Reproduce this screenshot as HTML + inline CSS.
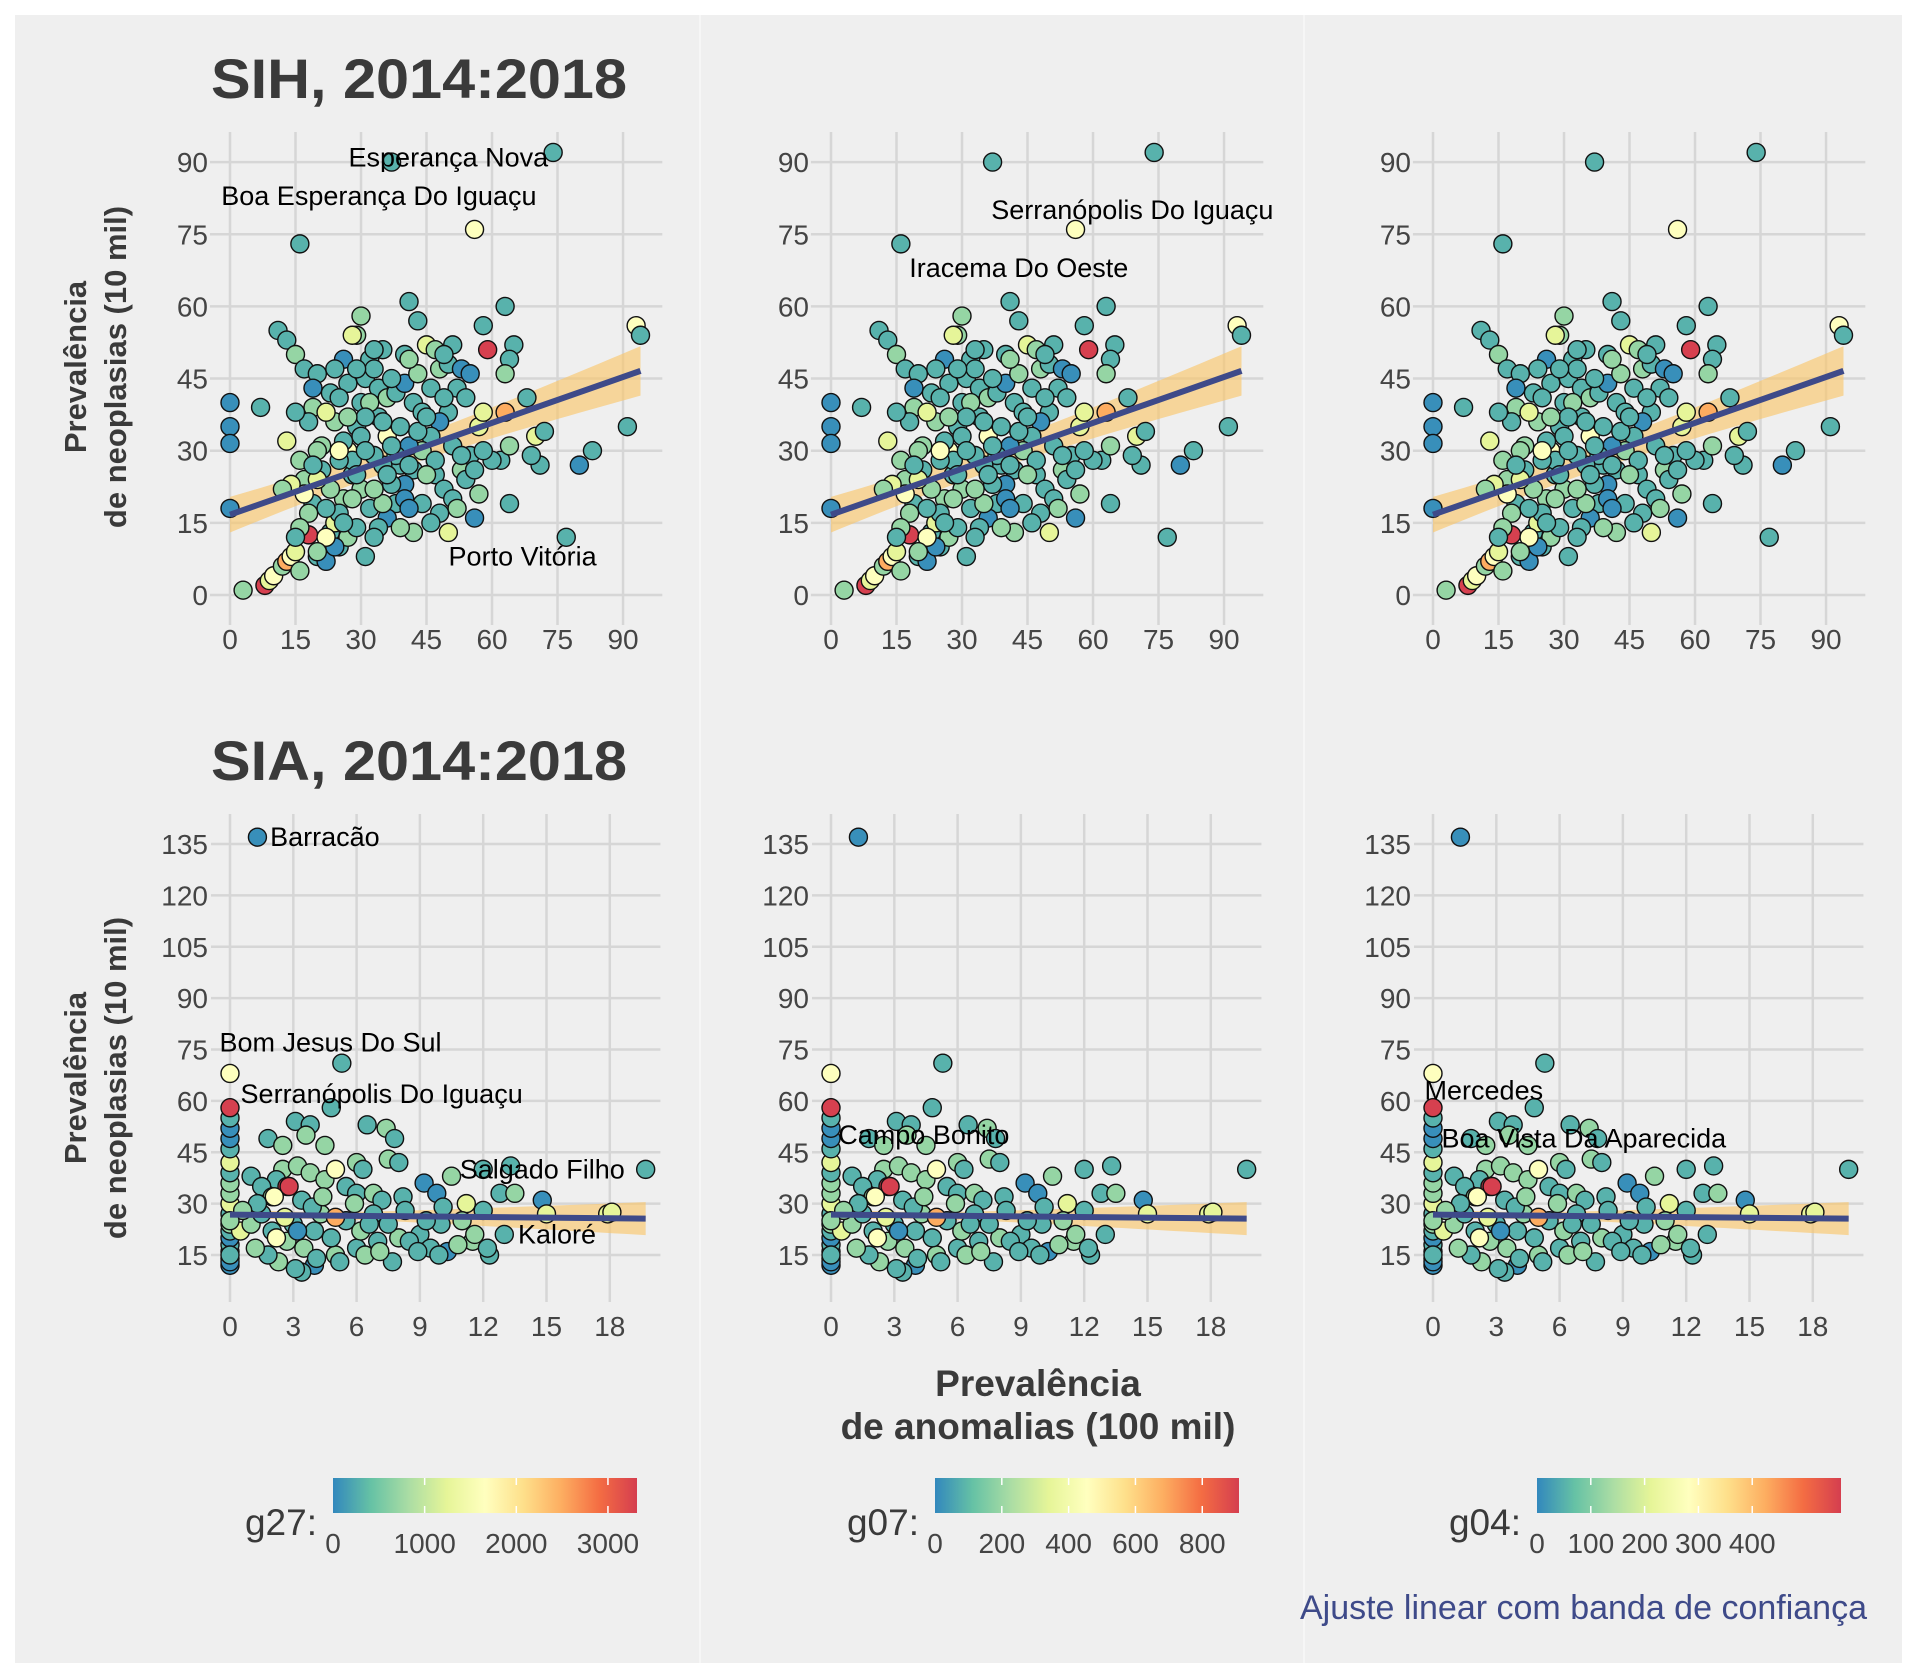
<!DOCTYPE html>
<html><head><meta charset="utf-8"><style>
html,body{margin:0;padding:0;background:#fff;}
svg{display:block;font-family:"Liberation Sans",sans-serif;}
</style></head><body>
<svg id="chart" width="1920" height="1680" viewBox="0 0 1920 1680">
<rect x="15" y="15" width="1887" height="1648" fill="#efefef"/>
<line x1="700" y1="15" x2="700" y2="1663" stroke="#f6f6f6" stroke-width="2"/>
<line x1="1304" y1="15" x2="1304" y2="1663" stroke="#f6f6f6" stroke-width="2"/>
<g id="root"></g>
</svg>
<script>
// ---- Top row data (SIH): x = anomalias, y = neoplasias, g = group value ----
const topX = [0,0,0,0,7,3,8,9,10,12, 13,14,15,16,11,13,15,17,16,20, 19,19,18,15,13,16,17,19,18,20,
 22,25,23,24,26,28,27,29,30,31, 30,29,28,35,32,26,24,33,34,36, 38,40,42,44,46,48,50,52,53,54,
 51,45,43,41,40,47,49,37,74,56, 58,59,63,65,64,63,68,70,72,71, 69,62,60,64,64,57,56,77,80,83,
 91,93,94,57,58,63,50,48,46,44, 42,40,38,36,34,32,30,28,26,24, 22,21,23,25,27,29,31,33,35,37,
 39,41,43,45,47,49,51,53,55,54, 52,50,48,46,44,42,40,38,36,34, 32,30,28,26,24,22,21,20,18,17,
 14,12,20,23,27,31,35,39,43,47, 51,53,55,56,58,25,33,37,41,45, 49,39,25,29,33,37,41,35,27,19,
 16,15,29,31,33,36,41,22,20,25];
const topY = [40,35,31.5,18,39,1,2,3,4,6, 7,8,9,5,55,53,50,47,73,46, 43,39,36,38,32,28,24,19,12.5,8,
 7,10,13,15,20,25,30,35,40,45, 58,54,54,51,49,49,47,47,43,41, 42,44,40,38,43,47,48,43,47,41,
 52,52,57,61,50,51,50,90,92,76, 56,51,60,52,49,46,41,33,34,27, 29,28,28,31,19,21,16,12,27,30,
 35,56,54,35,38,38,38,36,33,30, 26,23,19,16,14,18,22,28,32,36, 38,26,22,17,12,14,8,12,19,23,
 27,31,34,37,25,22,20,26,29,24, 18,13,17,15,19,13,20,29,33,37, 40,33,20,15,10,18,31,24,17,21,
 23,22,30,42,44,37,27,35,46,28, 31,29,46,26,30,28,29,31,18,25, 41,14,41,47,51,45,49,36,37,27,
 14,12,25,30,22,25,27,12,9,30];
const topG = [50,50,50,50,300,700,3300,1250,1650,700, 2500,1650,1250,700,300,300,700,300,300,300,
 50,700,300,300,1250,700,700,300,3300,300, 50,300,300,1250,700,300,1650,300,300,300,
 700,700,1250,300,300,50,300,300,300,700, 300,50,300,300,300,700,300,300,50,300,
 300,1250,300,300,300,700,300,300,300,1650, 300,3300,300,300,300,700,300,1250,300,300,
 300,300,300,700,300,700,50,300,50,300, 300,1650,300,1250,1250,2500,300,50,300,700,
 300,50,300,50,300,300,700,300,300,700, 1250,300,700,300,700,300,300,300,700,300,
 300,50,300,300,300,300,300,700,300,300, 700,1250,300,300,300,700,50,300,1650,300,
 700,300,700,300,50,300,700,1250,700,1650, 1250,700,700,300,300,300,300,300,700,300,
 300,300,50,300,300,300,300,300,50,700, 300,700,300,300,300,300,700,300,700,300,
 700,300,300,300,700,300,300,1650,700,1650];
const topFit = [16.7, 0.318];           // intercept, slope
const topBand = [2.6, 0.075, 35];        // base half-width, spread, centre x
const topYTicks = [0,15,30,45,60,75,90];
const topXTicks = [0,15,30,45,60,75,90];

// ---- Bottom row data (SIA) ----
const botX = [0,0,0,0,0,0,0,0,0,0, 0,0,0,0,0,0,0,0,0,1.3, 5.3,4.8,1.8,2.5,3.1,3.8,3.6,4.5,6.5,7.4,
 7.8,7.5,8,6,6.3,2.5,2.2,1,1.5,2, 2.7,3.2,3.8,4.5,5,5.5,6,6.8,7.2,8.2, 9.2,9.8,10.5,11.2,12,12.8,13.3,13.5,14.8,15,
 17.9,18.1,19.7,12,11,10,9,8,7,6, 5,4,3.4,3.1,2.3,1.8,1.2,0.5,1,1.5, 2,2.7,3,3.5,4,4.3,4.8,5.5,6.2,6.8,
 7.5,8.5,9.5,10.3,11.5,12.3,13,2.2,2.1,3.4, 3.9,4.4,5,2.8,1.3,0.6,4.1,5.2,6.4,7.7, 8.9,9.9,10.8,12.2,11.6,3.2,2.6,5.9,6.6,7.1,
 8.3,9.3,10.1,0,0,0];
const botY = [12,14,16,18,20,22,24,27,30,33, 36,39,42,46,49,52,55,58,68,137, 71,58,49,47,54,53,50,47,53,52,
 49,43,42,42,40,40,37,38,35,32, 35,41,39,37,40,35,33,33,31,32, 36,33,38,30,40,33,41,33,31,27,
 27,27.5,40,28,25,24,21,20,19,17, 15,12,10,11,13,15,17,22,24,27, 22,19,24,17,22,27,20,25,22,27,
 24,19,17,16,19,15,21,20,32,31, 29,32,26,35,30,28,14,13,15,13, 16,15,18,17,21,22,26,30,24,16,
 28,25,29,13,15,25];
const botG = [50,50,50,300,50,300,700,300,1250,700, 700,300,1250,300,50,50,300,3300,1650,50, 300,300,300,700,300,300,700,700,300,700,
 300,700,300,700,300,700,300,300,300,700, 3300,700,700,700,1650,300,300,700,300,300, 50,50,700,1250,300,300,300,700,50,1250,
 1250,1250,300,300,700,300,300,700,300,300, 700,50,300,300,700,300,700,1250,700,300, 300,700,300,700,300,700,300,300,700,300,
 300,300,300,50,700,300,300,1650,1650,300, 300,700,2500,3300,300,700,300,300,700,300, 300,300,700,300,700,50,1250,700,300,700,
 300,300,300,50,300,700];
const botFit = [26.8, -0.06];
const botBand = [1.0, 0.3, 4];
const botYTicks = [15,30,45,60,75,90,105,120,135];
const botXTicks = [0,3,6,9,12,15,18];

// ---- legends ----
const legNames = ['g27:','g07:','g04:'];
const legMax = [3317, 910, 565];
const legTicks = [[0,1000,2000,3000],[0,200,400,600,800],[0,100,200,300,400]];

const NS='http://www.w3.org/2000/svg';
const root=document.getElementById('root');
function mk(tag,attrs,parent){const e=document.createElementNS(NS,tag);for(const k in attrs)e.setAttribute(k,attrs[k]);(parent||root).appendChild(e);return e;}
const stops=['#3288bd','#66c2a5','#abdda4','#e6f598','#ffffbf','#fee08b','#fdae61','#f46d43','#d53e4f'];
function hex(h){return [1,3,5].map(i=>parseInt(h.substr(i,2),16));}
function colorAt(t){t=Math.max(0,Math.min(1,t));const p=t*8,i=Math.min(7,Math.floor(p)),f=p-i;const a=hex(stops[i]),b=hex(stops[i+1]);return 'rgb('+a.map((v,k)=>Math.round(v+(b[k]-v)*f)).join(',')+')';}

const colX0=[230,831,1433];
const rows=[
 {xs:topX,ys:topY,gs:topG,fit:topFit,band:topBand,yt:topYTicks,xt:topXTicks,xu:4.367,yu:4.81,y0val:0,y0:595,
  gridTop:132,gridBot:625,xmin:-4.6,xmax:99,fitMax:94,tickY:639,title:'SIH, 2014:2018',titleY:98,ytitleY:367,name:'sih'},
 {xs:botX,ys:botY,gs:botG,fit:botFit,band:botBand,yt:botYTicks,xt:botXTicks,xu:21.1,yu:3.425,y0val:15,y0:1255,
  gridTop:814,gridBot:1302,xmin:-0.9,xmax:20.4,fitMax:19.7,tickY:1326,title:'SIA, 2014:2018',titleY:780,ytitleY:1078,name:'sia'}
];
const labels=[
 [[[50,91,'middle','Esperança Nova'],[-2,83,'start','Boa Esperança Do Iguaçu'],[67,8,'middle','Porto Vitória']],
  [[69,80,'middle','Serranópolis Do Iguaçu'],[43,68,'middle','Iracema Do Oeste']],[]],
 [[[1.9,137,'start','Barracão'],[-0.5,77,'start','Bom Jesus Do Sul'],[0.5,62,'start','Serranópolis Do Iguaçu'],[14.8,40,'middle','Salgado Filho'],[15.5,21,'middle','Kaloré']],
  [[4.4,50,'middle','Campo Bonito']],
  [[-0.4,63,'start','Mercedes'],[0.4,49,'start','Boa Vista Da Aparecida']]]
];

rows.forEach((r,ri)=>{
  const t=mk('text',{x:211,y:r.titleY,'font-size':56,'font-weight':'bold',fill:'#3a3a3a',textLength:416,lengthAdjust:'spacingAndGlyphs'});
  t.textContent=r.title;
  
  
  const yt=mk('text',{transform:'translate(96,'+r.ytitleY+') rotate(-90)','font-size':31,'font-weight':'bold',fill:'#3a3a3a','text-anchor':'middle'});
  
  
  mk('tspan',{x:0,dy:-10},yt).textContent='Prevalência';
  mk('tspan',{x:0,dy:40},yt).textContent='de neoplasias (10 mil)';
  colX0.forEach((x0,ci)=>{
    const g=mk('g',{});
    
    
    const sx=v=>x0+v*r.xu, sy=v=>r.y0-(v-r.y0val)*r.yu;
    const left=sx(r.xmin), right=sx(r.xmax);
    r.yt.forEach(v=>{
      mk('line',{x1:left,x2:right,y1:sy(v),y2:sy(v),stroke:'#d6d6d6','stroke-width':2.5},g);
      const tl=mk('text',{x:x0-22,y:sy(v)+10,'font-size':28,fill:'#444','text-anchor':'end'},g);
      tl.textContent=v;
      
      
    });
    r.xt.forEach(v=>{
      mk('line',{x1:sx(v),x2:sx(v),y1:r.gridTop,y2:r.gridBot,stroke:'#d6d6d6','stroke-width':2.5},g);
      const tl=mk('text',{x:sx(v),y:r.tickY+10,'font-size':28,fill:'#444','text-anchor':'middle'},g);
      tl.textContent=v;
      
      
    });
    const pts=[],N=40;
    const fy=v=>r.fit[0]+r.fit[1]*v, hw=v=>Math.sqrt(r.band[0]*r.band[0]+Math.pow(r.band[1]*(v-r.band[2]),2));
    for(let i=0;i<=N;i++){const v=r.fitMax*i/N;pts.push(sx(v)+','+sy(fy(v)+hw(v)));}
    for(let i=N;i>=0;i--){const v=r.fitMax*i/N;pts.push(sx(v)+','+sy(fy(v)-hw(v)));}
    const band=mk('polygon',{points:pts.join(' '),fill:'#f9c66b','fill-opacity':0.65},g);
    
    
    r.xs.forEach((xv,i)=>{
      const c=mk('circle',{cx:sx(xv),cy:sy(r.ys[i]),r:9,fill:colorAt(r.gs[i]/3317),stroke:'#111','stroke-width':1.4},g);
      
      
    });
    const fl=mk('line',{x1:sx(0),y1:sy(fy(0)),x2:sx(r.fitMax),y2:sy(fy(r.fitMax)),stroke:'#3e4a89','stroke-width':6},g);
    
    
    labels[ri][ci].forEach(L=>{
      const tx=mk('text',{x:sx(L[0]),y:sy(L[1])+9,'font-size':27,fill:'#000','text-anchor':L[2]},g);
      tx.textContent=L[3];
      
      
    });
  });
});

const xt=mk('text',{x:1038,y:0,'font-size':37,'font-weight':'bold',fill:'#3a3a3a','text-anchor':'middle'});


mk('tspan',{x:1038,y:1396},xt).textContent='Prevalência';
mk('tspan',{x:1038,y:1439},xt).textContent='de anomalias (100 mil)';

const defs=mk('defs',{});
const grad=mk('linearGradient',{id:'spec',x1:0,x2:1,y1:0,y2:0},defs);
stops.forEach((s,i)=>mk('stop',{offset:(i/8),'stop-color':s},grad));
legNames.forEach((nm,i)=>{
  const bx=333+i*602, bw=304;
  const lg=mk('g',{});
  
  
  mk('rect',{x:bx,y:1478,width:bw,height:35,fill:'url(#spec)'},lg);
  const lt=mk('text',{x:bx-16,y:1535,'font-size':37,fill:'#3a3a3a','text-anchor':'end'},lg);
  lt.textContent=nm;
  legTicks[i].forEach(v=>{
    const px=bx+v/legMax[i]*bw;
    if(v>0){mk('line',{x1:px,x2:px,y1:1478,y2:1485,stroke:'#fff','stroke-width':1.5},lg);mk('line',{x1:px,x2:px,y1:1506,y2:1513,stroke:'#fff','stroke-width':1.5},lg);}
    const tl=mk('text',{x:px,y:1553,'font-size':28,fill:'#444','text-anchor':'middle'},lg);
    tl.textContent=v;
  });
});
const cap=mk('text',{x:1867,y:1619,'font-size':34,fill:'#3e4a89','text-anchor':'end'});
cap.textContent='Ajuste linear com banda de confiança';


</script>
</body></html>
